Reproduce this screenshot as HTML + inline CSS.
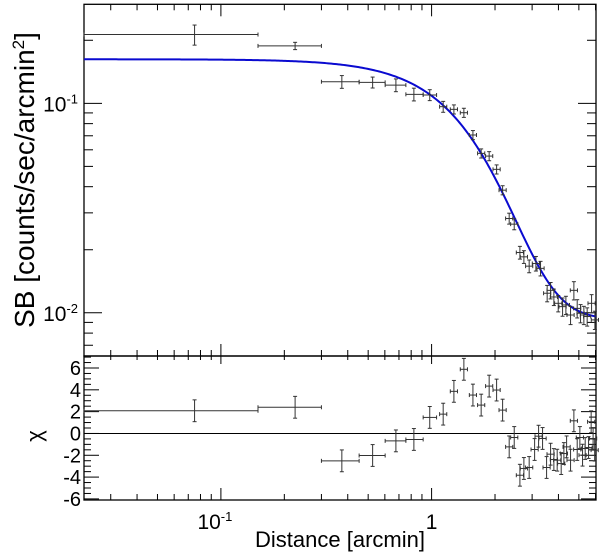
<!DOCTYPE html>
<html><head><meta charset="utf-8"><style>
body{margin:0;background:#fff;}
svg text{font-family:"Liberation Sans",sans-serif;fill:#000;}
</style></head><body>
<svg id="chart" width="600" height="552" viewBox="0 0 600 552" xmlns="http://www.w3.org/2000/svg"></svg>
<script>
// ---- data ----
const sbX = [0.075,0.225,0.375,0.525,0.677,0.824,0.98,1.135,1.276,1.423,1.571,1.719,1.876,2.035,2.173,2.335,2.467,2.625,2.742,2.905,3.126,3.289,3.536,3.671,3.805,3.990,4.185,4.339,4.566,4.735,4.910,5.093,5.281,5.475,5.745,5.957];
const sbY = [0.213,0.188,0.1268,0.1259,0.1222,0.1104,0.1096,0.0964,0.0936,0.0902,0.0706,0.0577,0.0560,0.0484,0.0385,0.0282,0.0265,0.0194,0.0185,0.0167,0.0172,0.0163,0.0124,0.0128,0.0119,0.0111,0.0107,0.0109,0.00976,0.0128,0.0105,0.00995,0.00976,0.0096,0.0111,0.00925];
const sbXLo = [0.0224,0.15,0.30,0.453,0.602,0.755,0.912];
const sbXHi = [0.15,0.30,0.453,0.602,0.755,0.912,1.056];
const sbYErr = [0.11,0.04,0.07,0.06,0.07,0.07,0.06,0.06,0.05,0.05,0.05,0.05,0.05,0.05,0.05,0.06,0.06,0.07,0.07,0.07,0.08,0.08,0.09,0.09,0.09,0.09,0.1,0.1,0.1,0.1,0.1,0.1,0.1,0.1,0.1,0.1];
const chiX = [0.075,0.225,0.375,0.525,0.677,0.824,0.98,1.135,1.276,1.423,1.571,1.719,1.876,2.035,2.173,2.335,2.467,2.625,2.742,2.905,3.083,3.220,3.363,3.514,3.671,3.805,3.945,4.122,4.245,4.373,4.566,4.735,4.910,5.055,5.206,5.358,5.559,5.719,5.842,5.943];
const chiV = [2.08,2.4,-2.51,-2.02,-0.68,-0.55,1.47,1.77,3.86,5.88,3.52,2.60,4.34,3.98,2.14,-1.23,-0.37,-3.83,-3.21,-3.12,-1.47,-0.25,-0.46,-3.12,-1.90,-2.39,-2.45,-2.76,-1.84,-1.23,-2.45,1.16,-1.47,-0.37,-1.99,-1.38,-1.29,1.07,-0.46,-1.53];
const modelParams = [0.153, 2.8, 3.6, 0.0093]; // S0, rc, p, background
const xTickLabels = ["10","1"];
const chiTicks = [-6,-4,-2,0,2,4,6];

// ---- axes ----
const L=84, R=596, T=4.3, M=356, B=500;
const xMin=Math.log10(0.0224), xMax=Math.log10(6.03);
const yMin=Math.log10(0.00622), yMax=Math.log10(0.297);
const cMin=-6.1, cMax=7.1;
const sx = v => L + (Math.log10(v)-xMin)/(xMax-xMin)*(R-L);
const sy = v => M - (Math.log10(v)-yMin)/(yMax-yMin)*(M-T);
const sc = v => B - (v-cMin)/(cMax-cMin)*(B-M);
const svg=document.getElementById('chart');
const NS="http://www.w3.org/2000/svg";
function mk(tag,attrs,parent){const e=document.createElementNS(NS,tag);for(const k in attrs)e.setAttribute(k,attrs[k]);(parent||svg).appendChild(e);return e;}
function line(x1,y1,x2,y2,col,w,p){return mk('line',{x1,y1,x2,y2,stroke:col||'#000','stroke-width':w||1},p);}

const gAx=mk('g',{});


mk('rect',{x:L,y:T,width:R-L,height:M-T,fill:'none',stroke:'#000','stroke-width':1.3},gAx);
mk('rect',{x:L,y:M,width:R-L,height:B-M,fill:'none',stroke:'#000','stroke-width':1.3},gAx);
for(let d=-2;d<=0;d++){for(let m=1;m<=9;m++){const v=m*Math.pow(10,d);if(v<0.0224||v>6.03)continue;
 const x=sx(v);const len=(m===1)?12:6;
 line(x,T,x,T+len,'#000',1,gAx);line(x,M,x,M-len,'#000',1,gAx);line(x,M,x,M+(m===1?8:4),'#000',1,gAx);line(x,B,x,B-len,'#000',1,gAx);}}
for(let d=-3;d<=-1;d++){for(let m=1;m<=9;m++){const v=m*Math.pow(10,d);if(v<0.00622||v>0.297)continue;
 const y=sy(v);const len=(m===1)?18:9;
 line(L,y,L+len,y,'#000',1,gAx);line(R,y,R-len,y,'#000',1,gAx);}}
for(let v=-6;v<=7;v+=0.5){const y=sc(v);const len=(Math.abs(v%2)<1e-6)?15:7;line(L,y,L+len,y,'#000',1,gAx);line(R,y,R-len,y,'#000',1,gAx);}
const yl1=mk('text',{x:L-6,y:sy(0.1)+8,'text-anchor':'end','font-size':21},gAx);yl1.innerHTML='10<tspan dy="-8" font-size="13">-1</tspan>';

const yl2=mk('text',{x:L-6,y:sy(0.01)+8,'text-anchor':'end','font-size':21},gAx);yl2.innerHTML='10<tspan dy="-8" font-size="13">-2</tspan>';

chiTicks.forEach(v=>{const t=mk('text',{x:L-3,y:sc(v)+7,'text-anchor':'end','font-size':20},gAx);t.textContent=v;
 });
const xl1=mk('text',{x:sx(0.1)-6,y:529,'text-anchor':'middle','font-size':21},gAx);xl1.innerHTML=xTickLabels[0]+'<tspan dy="-8" font-size="13">-1</tspan>';

const xl2=mk('text',{x:sx(1),y:529,'text-anchor':'middle','font-size':21},gAx);xl2.textContent=xTickLabels[1];

const xt=mk('text',{x:340,y:547,'text-anchor':'middle','font-size':22},gAx);xt.textContent='Distance [arcmin]';

const yt=mk('text',{x:0,y:0,'text-anchor':'middle','font-size':28,transform:'translate(34,180) rotate(-90)'},gAx);yt.innerHTML='SB [counts/sec/arcmin<tspan dy="-10" font-size="17">2</tspan><tspan dy="10">]</tspan>';

const ct=mk('text',{x:0,y:0,'text-anchor':'middle','font-size':22,transform:'translate(42,436) rotate(-90)'},gAx);ct.textContent='χ';

const z=line(L,sc(0),R,sc(0),'#000',1);


// model (beta model)
const [S0,rc,p,bg]=modelParams;
let dPath='';
for(let i=0;i<=300;i++){const lx=xMin+(xMax-xMin)*i/300;const x=Math.pow(10,lx);
 const v=S0*Math.pow(1+x*x/(rc*rc),-p)+bg;
 dPath+=(i?'L':'M')+sx(x).toFixed(2)+','+sy(v).toFixed(2);}
const mp=mk('path',{d:dPath,fill:'none',stroke:'#0a0ad0','stroke-width':2});


const gSB=mk('g',{});

sbX.forEach((xv,i)=>{const g=mk('g',{},gSB);
 
 const lo=i<sbXLo.length?sbXLo[i]:xv/1.04, hi=i<sbXHi.length?sbXHi[i]:xv*1.04;
 const x=sx(xv),y=sy(sbY[i]);const e=sbYErr[i];
 const y1=sy(sbY[i]*(1+e)),y2=sy(sbY[i]*(1-e));
 line(sx(lo),y,sx(hi),y,'#333',1,g);line(x,y1,x,y2,'#333',1,g);
 line(x-2,y1,x+2,y1,'#333',1,g);line(x-2,y2,x+2,y2,'#333',1,g);
 line(sx(lo),y-2,sx(lo),y+2,'#333',1,g);line(sx(hi),y-2,sx(hi),y+2,'#333',1,g);});

const gC=mk('g',{});

chiX.forEach((xv,i)=>{const g=mk('g',{},gC);
 
 const lo=i<sbXLo.length?sbXLo[i]:xv/1.04, hi=i<sbXHi.length?sbXHi[i]:xv*1.04;
 const x=sx(xv),y=sc(chiV[i]);const y1=sc(chiV[i]+1),y2=sc(chiV[i]-1);
 line(sx(lo),y,sx(hi),y,'#333',1,g);line(x,y1,x,y2,'#333',1,g);
 line(x-2,y1,x+2,y1,'#333',1,g);line(x-2,y2,x+2,y2,'#333',1,g);
 line(sx(lo),y-2,sx(lo),y+2,'#333',1,g);line(sx(hi),y-2,sx(hi),y+2,'#333',1,g);});
</script>
</body></html>
